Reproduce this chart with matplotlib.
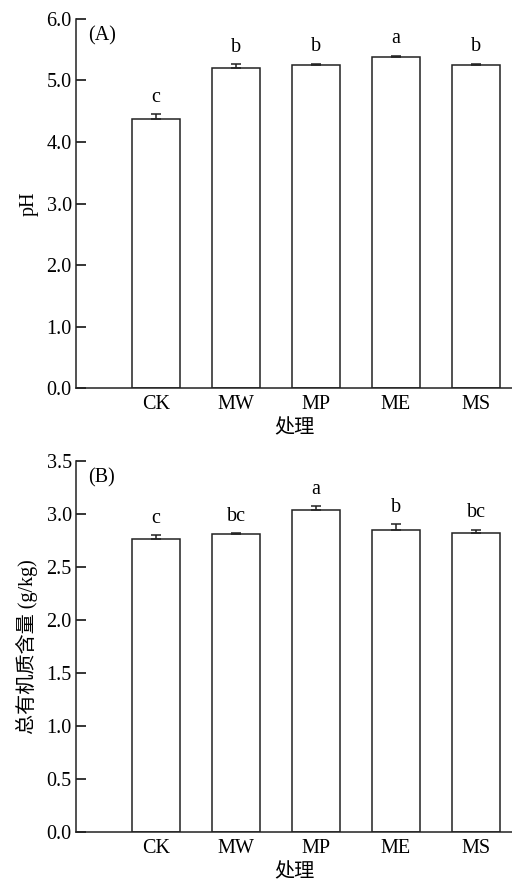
import matplotlib
matplotlib.use("Agg")
import matplotlib.pyplot as plt

# treatments
groups = ['CK', 'MW', 'MP', 'ME', 'MS']

# panel A: pH
ph_mean = [4.37, 5.20, 5.25, 5.38, 5.25]
ph_err = [0.08, 0.06, 0.02, 0.02, 0.02]
ph_sig = ['c', 'b', 'b', 'a', 'b']

# panel B: total organic matter (g/kg)
om_mean = [2.76, 2.81, 3.04, 2.85, 2.82]
om_err = [0.04, 0.01, 0.03, 0.05, 0.03]
om_sig = ['c', 'bc', 'a', 'b', 'bc']

plt.rcParams['font.family'] = ['Liberation Serif', 'Noto Sans CJK SC']
plt.rcParams['font.size'] = 14.5

fig = plt.figure(figsize=(5.12, 8.81), dpi=100)
ax1 = fig.add_axes([0.1484, 0.5593, 0.8516, 0.4192])
ax2 = fig.add_axes([0.1484, 0.0560, 0.8516, 0.4208])


def draw(ax, means, errs, sig, ymax, step, label, tag, lpad):
    x = list(range(1, len(groups) + 1))
    ax.bar(x, means, width=0.6, color='white', edgecolor='#222222',
           linewidth=1.1, zorder=2)
    ax.errorbar(x, means, yerr=[[0] * len(errs), errs], fmt='none',
                ecolor='#222222', elinewidth=1.1, capsize=3.6,
                capthick=1.1, zorder=3)
    pad = ymax * 0.02
    for xi, m, e, s in zip(x, means, errs, sig):
        ax.text(xi, m + e + pad, s, ha='center', va='bottom')
    ax.set_xlim(0, 5.45)
    ax.set_ylim(0, ymax)
    ticks = [i * step for i in range(int(round(ymax / step)) + 1)]
    ax.set_yticks(ticks)
    ax.set_yticklabels(['%.1f' % t for t in ticks])
    ax.set_xticks(x)
    ax.set_xticklabels(groups)
    ax.tick_params(axis='y', direction='in', length=7, width=1.1, pad=3)
    ax.tick_params(axis='x', length=0, pad=5)
    for sp in ['top', 'right']:
        ax.spines[sp].set_visible(False)
    for sp in ['left', 'bottom']:
        ax.spines[sp].set_linewidth(1.1)
        ax.spines[sp].set_color('#222222')
    ax.set_xlabel('处理', labelpad=4)
    ax.set_ylabel(label, labelpad=lpad)
    ax.text(0.15, ymax * 0.955, tag, ha='left', va='center')


draw(ax1, ph_mean, ph_err, ph_sig, 6.0, 1.0, 'pH', '(A)', 6)
draw(ax2, om_mean, om_err, om_sig, 3.5, 0.5, '总有机质含量 (g/kg)', '(B)', 6)

fig.savefig('out.png', dpi=100)
